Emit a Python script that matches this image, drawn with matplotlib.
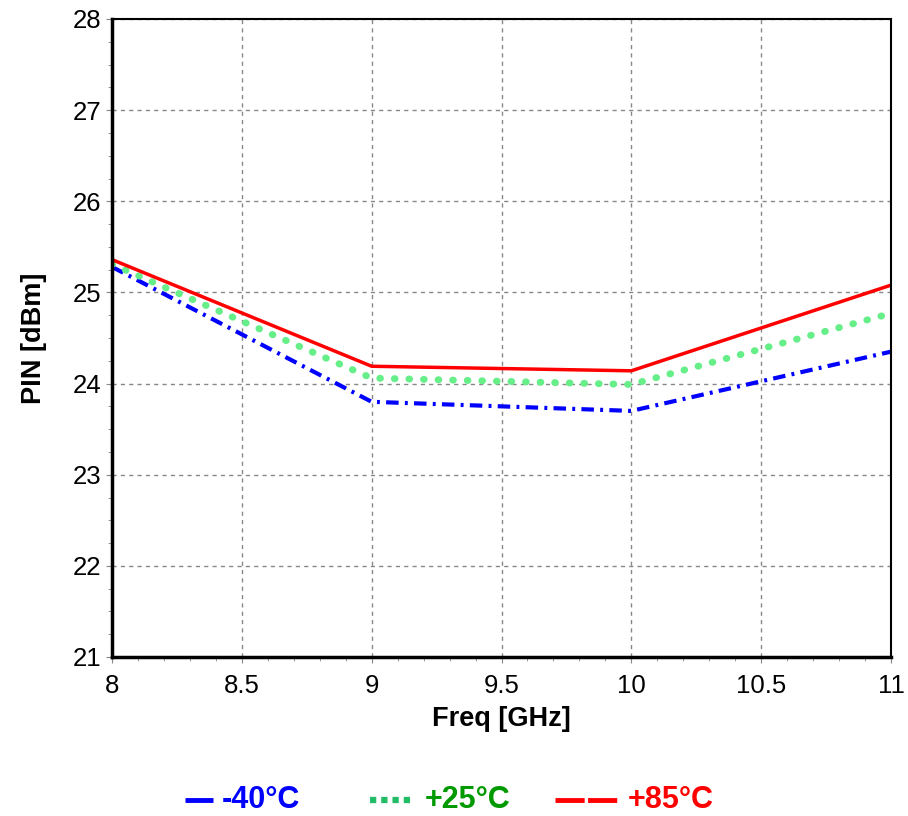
import matplotlib
matplotlib.use("Agg")
import matplotlib.pyplot as plt
from matplotlib.ticker import MultipleLocator
from matplotlib.lines import Line2D

freq = [8, 9, 10, 11]
pin_m40 = [25.28, 23.80, 23.70, 24.35]
pin_p25 = [25.31, 24.06, 23.99, 24.77]
pin_p85 = [25.36, 24.19, 24.14, 25.08]
labels = ["-40°C", "+25°C", "+85°C"]
xticks = [8, 8.5, 9, 9.5, 10, 10.5, 11]
xticklabels = ["8", "8.5", "9", "9.5", "10", "10.5", "11"]

plt.rcParams['font.family'] = ['Liberation Sans', 'DejaVu Sans']

W, H = 908, 816
fig = plt.figure(figsize=(W/100, H/100), dpi=100)
ax = fig.add_axes([112/W, 1-657/H, (891-112)/W, (657-19)/H])

ax.plot(freq, pin_m40, color='#0000ff', lw=3, linestyle=(0, (3, 1.5, 0.7, 1.5)))
ax.plot(freq, pin_p25, color='#66ee88', lw=5, linestyle=(0, (0.1, 2.0)), dash_capstyle='round')
ax.plot(freq, pin_p85, color='#ff0000', lw=2.5, linestyle='-')

ax.set_xlim(8, 11)
ax.set_ylim(21, 28)
ax.set_xticks(xticks)
ax.set_xticklabels(xticklabels)
ax.xaxis.set_minor_locator(MultipleLocator(0.1))
ax.yaxis.set_major_locator(MultipleLocator(1))
ax.yaxis.set_minor_locator(MultipleLocator(0.25))
ax.grid(True, which='major', color='#888888', linestyle=(0, (3, 3)), lw=1)
ax.tick_params(which='major', direction='out', length=4, color='#888888',
               labelsize=18.5)
ax.tick_params(axis='x', which='major', pad=8)
ax.tick_params(axis='y', which='major', pad=3.5)
ax.tick_params(which='minor', direction='out', length=3, color='#888888')

ax.spines['left'].set_linewidth(2.5)
ax.spines['bottom'].set_linewidth(2.5)
ax.spines['top'].set_linewidth(1.5)
ax.spines['right'].set_linewidth(1.5)

ax.set_xlabel("Freq [GHz]", fontsize=19.5, fontweight='bold', labelpad=6)
ax.set_ylabel("PIN [dBm]", fontsize=19.5, fontweight='bold', labelpad=19)

# legend drawn below the axes
ly = 1 - 800/H
entries = [
    (185, 213, 222, '#0000ff', '#0000ff', '-', 3.5),
    (370, 410, 425, '#22bb66', '#009900', (0, (1.0, 0.8)), 4.5),
    (555, 620, 628, '#ff0000', '#ff0000', (0, (6.0, 0.7)), 3.5),
]
for (x0, x1, xt, hc, tc, ls, lw), lab in zip(entries, labels):
    fig.add_artist(Line2D([x0/W, x1/W], [ly, ly], transform=fig.transFigure,
                          color=hc, lw=lw, linestyle=ls, solid_capstyle='butt',
                          dash_capstyle='butt'))
    fig.text(xt/W, ly, lab, color=tc, fontsize=22, fontweight='bold',
             ha='left', va='center')

fig.savefig("out.png", dpi=100)
